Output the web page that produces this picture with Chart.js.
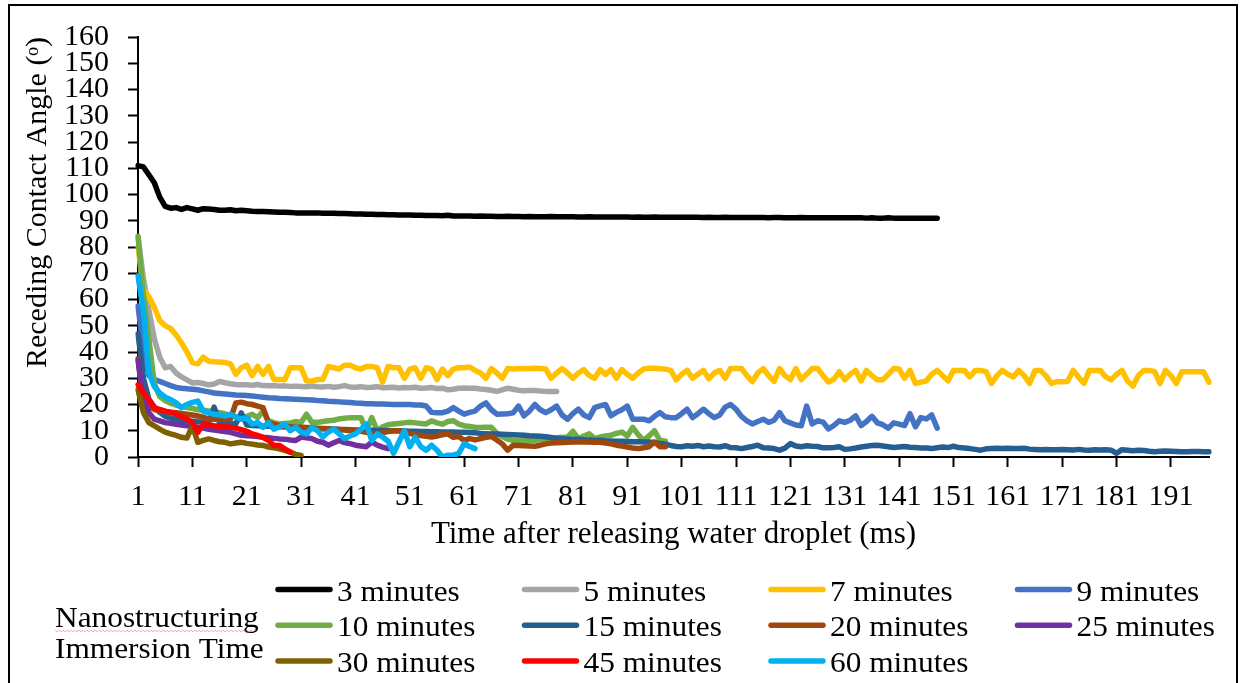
<!DOCTYPE html>
<html>
<head>
<meta charset="utf-8">
<script src="https://cdn.jsdelivr.net/npm/chart.js@4/dist/chart.umd.min.js"></script>
<style>
  html, body { margin: 0; padding: 0; background: #fff; }
  #wrap { width: 1243px; height: 683px; position: relative; }
</style>
</head>
<body>
<div id="wrap"><canvas id="angleChart"></canvas></div>
<script>
// time steps (ms) on the category axis
const timeMs = Array.from({ length: 198 }, (_, i) => i + 1);
const xTickLabels = [1, 11, 21, 31, 41, 51, 61, 71, 81, 91, 101, 111, 121, 131, 141, 151, 161, 171, 181, 191];
const yTicks = [0, 10, 20, 30, 40, 50, 60, 70, 80, 90, 100, 110, 120, 130, 140, 150, 160];

const seriesNames = ["3 minutes", "5 minutes", "7 minutes", "9 minutes", "10 minutes", "15 minutes",
	"20 minutes", "25 minutes", "30 minutes", "45 minutes", "60 minutes"];
const seriesColors = ["#000000", "#A5A5A5", "#FFC000", "#4472C4", "#70AD47", "#255E91",
	"#9E480E", "#7030A0", "#7F6000", "#FF0000", "#00B0F0"];

const min3 = [111, 110.5, 107.5, 104.5, 99, 95.5, 94.8, 95, 94.3, 95,
	94.5, 94, 94.6, 94.5, 94.3, 94, 94, 94.2, 93.8, 94,
	93.8, 93.6, 93.5, 93.5, 93.4, 93.3, 93.2, 93.2, 93.1, 93,
	93, 93, 93, 93, 92.9, 92.9, 92.9, 92.8, 92.8, 92.7,
	92.6, 92.6, 92.5, 92.5, 92.4, 92.4, 92.3, 92.3, 92.2, 92.2,
	92.2, 92.1, 92.1, 92, 92, 92, 91.9, 92.1, 91.8, 91.8,
	91.8, 91.8, 91.7, 91.8, 91.7, 91.7, 91.6, 91.6, 91.7, 91.6,
	91.6, 91.5, 91.6, 91.5, 91.5, 91.5, 91.6, 91.5, 91.5, 91.5,
	91.5, 91.4, 91.4, 91.5, 91.4, 91.4, 91.4, 91.4, 91.4, 91.4,
	91.4, 91.3, 91.4, 91.3, 91.3, 91.4, 91.3, 91.3, 91.3, 91.3,
	91.3, 91.3, 91.3, 91.3, 91.2, 91.3, 91.2, 91.2, 91.3, 91.2,
	91.2, 91.2, 91.2, 91.2, 91.2, 91.2, 91.1, 91.2, 91.2, 91.1,
	91.1, 91.1, 91.2, 91.1, 91.1, 91.1, 91.1, 91.1, 91.1, 91.1,
	91.1, 91.1, 91.1, 91.1, 91, 91.1, 91, 91, 91.1, 91,
	91, 91, 91, 91, 91, 91, 91, 91];

const min5 = [84, 68, 56, 45, 38, 34, 34.5, 32, 30.5, 29.4,
	28.2, 28.4, 28, 27.5, 27.8, 28.8, 28.3, 27.9, 27.6, 27.5,
	27.5, 27.3, 27.6, 27.2, 27.1, 27.2, 27, 27.1, 26.9, 27,
	26.9, 26.8, 27, 26.8, 26.7, 26.9, 26.6, 26.8, 27.2, 26.7,
	26.6, 26.8, 26.5, 26.6, 26.8, 26.4, 26.5, 26.6, 26.3, 26.5,
	26.4, 26.6, 26.2, 26.3, 26.5, 26.1, 26.2, 25.6, 25.8, 26.2,
	26.3, 26.2, 26.2, 25.9, 25.7, 25.4, 25, 25.6, 26.2, 25.8,
	25.4, 25.2, 25.3, 25.3, 25.1, 25, 25, 25];

const min7 = [80, 64, 61, 57, 52, 50, 49, 46.5, 43.5, 40,
	36, 35.5, 38, 36.5, 36.3, 36.2, 36, 35.5, 31.5, 34,
	35, 31, 34.5, 31.5, 34.5, 29.5, 29.5, 29.5, 34, 34,
	34, 29, 29, 29.5, 29.5, 34.5, 34, 33.5, 35, 35,
	34, 33.5, 34.5, 34.5, 34, 28.5, 34.5, 34, 34, 30,
	33.5, 34, 30, 34, 33.5, 29.5, 33.5, 31, 33.5, 34,
	34, 34.3, 33, 32, 30, 33.7, 32, 30, 33.7, 33.5,
	33.6, 33.6, 33.7, 33.8, 33.7, 33.5, 30, 32, 33.7, 32,
	30, 32, 33.3, 31, 30, 33.3, 31.5, 33.3, 30, 33.3,
	31.5, 30, 32, 33.5, 33.8, 33.8, 33.6, 33.5, 33, 29.4,
	31.5, 33, 30, 31.5, 33, 29.8, 32, 33, 30, 33.7,
	33.7, 33.7, 31, 28.7, 32, 33.7, 31, 28.8, 33.7, 31,
	29.5, 33.7, 29.5, 31.5, 33.7, 33.7, 31, 28.6, 29.6, 32.5,
	29.4, 31.5, 33, 29, 33, 31, 29.4, 29.4, 31.5, 33.7,
	33.5, 30, 33, 28, 28.5, 29, 31.5, 33, 31, 29,
	33, 33, 33, 30.5, 33, 33, 32.5, 28, 31, 33,
	31.5, 30.5, 33, 31, 28, 33, 33, 31, 28, 28.7,
	28.7, 28.8, 33, 30.5, 28, 33, 33, 33, 30.5, 29.4,
	31.5, 33, 29, 27, 31, 33, 33, 32.5, 28, 33,
	31, 28, 32.5, 32.5, 32.5, 32.5, 32.5, 28.5];

const min9 = [57.5, 41, 31, 29.5, 28.8, 28, 27.2, 26.5, 26.2, 26,
	25.8, 25.6, 25.2, 24.8, 24.4, 24.2, 24, 23.8, 23.6, 23.5,
	23.4, 23.2, 23, 22.8, 22.6, 22.5, 22.3, 22.2, 22.1, 22,
	21.9, 21.8, 21.7, 21.5, 21.4, 21.2, 21.1, 21, 20.9, 20.8,
	20.6, 20.5, 20.3, 20.3, 20.2, 20.2, 20.1, 20, 20, 20,
	20, 19.8, 19.8, 19.4, 17, 16.9, 16.9, 17.5, 18.8, 17.5,
	16.3, 17, 17.5, 19.4, 20.6, 18, 16.3, 16.4, 16.5, 16.8,
	19.4, 15.7, 17.5, 20, 18, 16.9, 18, 19.4, 16, 14.4,
	16.5, 18.2, 16, 15, 18.8, 19.5, 20, 15.7, 17, 18,
	19.4, 14.4, 14.4, 14.4, 13.8, 15.5, 16.9, 15.3, 15, 15,
	16.5, 18.2, 15, 16.5, 18.2, 16.5, 15, 16, 19, 20,
	18.2, 15.5, 13.8, 12.6, 13.5, 14.4, 13.2, 14, 16.9, 13.8,
	13, 12.2, 11.9, 19.4, 12.6, 13.8, 13.3, 10.7, 12, 13.8,
	13.2, 14, 15.7, 12, 13.5, 15.5, 13, 12.3, 11, 13,
	12.5, 12, 16.5, 11.5, 15, 14.5, 16, 11];

const min10 = [84, 62, 45, 28, 23, 21.5, 20.5, 19.8, 19.2, 18.8,
	18.5, 18, 17.8, 17.5, 17.2, 16.9, 16.5, 15.6, 15.3, 15,
	15.5, 16.3, 15, 17.5, 13.8, 13.1, 12.6, 12.8, 13, 13.5,
	13.2, 16.3, 13.2, 13.2, 13.5, 13.8, 14, 14.5, 14.8, 15,
	15, 15, 10, 15, 10, 11.5, 12.3, 12.6, 12.8, 13,
	13.2, 13, 12.8, 12.6, 13.8, 13, 12.5, 13.5, 13.8, 12.5,
	11.9, 11.6, 11.3, 11.2, 11.3, 11.3, 9, 7.8, 6.8, 6.3,
	6.3, 6.3, 6.3, 6.4, 6.6, 6.9, 7.1, 7.3, 7.5, 7.6,
	9.8, 7, 8, 8.8, 7, 7.6, 8, 8.3, 9, 9.5,
	8, 11.3, 8.5, 6.3, 8, 10, 6.3, 6];

const min15 = [47, 30, 22, 19, 17, 15.5, 14.8, 14.3, 14, 13.8,
	13.6, 13.4, 13.3, 13.2, 19, 13.1, 13, 12.8, 12.7, 16.8,
	12.2, 12, 11.9, 11.8, 11.7, 11.6, 11.5, 11.4, 11.3, 11.2,
	11.1, 11, 10.9, 10.8, 10.8, 10.7, 10.6, 10.5, 10.5, 10.4,
	10.3, 10.3, 10.2, 10.2, 10.1, 10.1, 10, 10, 10, 9.9,
	9.8, 9.8, 9.7, 9.7, 9.6, 9.6, 9.5, 9.5, 9.5, 9.4,
	9.4, 9.3, 9.2, 9, 8.9, 8.8, 8.8, 8.7, 8.6, 8.5,
	8.4, 8.3, 8.1, 8, 7.9, 7.7, 7.4, 7.1, 7, 6.9,
	6.8, 6.8, 6.6, 6.5, 6.4, 6.4, 6.2, 6.1, 6, 6,
	5.9, 5.8, 5.8, 5.7, 5.7, 5.5, 5.2, 4.9, 4.4, 4,
	3.9, 4.3, 4.1, 4.4, 3.9, 4.2, 3.9, 3.8, 4.3, 3.6,
	3.5, 3.2, 3.6, 4, 4.5, 3.5, 3.4, 3.2, 2.6, 3.4,
	5.1, 4.2, 3.9, 4.3, 4.1, 4, 3.5, 3.5, 3.6, 3.9,
	2.9, 3.1, 3.4, 3.8, 4.1, 4.4, 4.5, 4.2, 3.9, 3.6,
	3.8, 4, 3.7, 3.6, 3.4, 3.4, 3.2, 3.5, 3.8, 3.6,
	4.1, 3.6, 3.4, 3.2, 2.9, 2.6, 3.1, 3.2, 3.3, 3.2,
	3.3, 3.2, 3.2, 3.3, 3, 2.9, 2.8, 2.9, 2.8, 2.8,
	2.9, 2.8, 2.7, 2.9, 2.7, 2.6, 2.8, 2.7, 2.8, 2.6,
	1.4, 2.8, 2.6, 2.4, 2.6, 2.5, 2.2, 2, 2.2, 2.3,
	2.2, 2.1, 2, 2, 2.1, 2.1, 2, 2];

const min20 = [37.5, 20.6, 19.5, 18.1, 17.6, 17.3, 17.1, 16.9, 16.6, 16.3,
	16, 15.6, 15.2, 14.4, 14.4, 14.4, 14.4, 14.4, 20.6, 20.9,
	20.3, 20, 19.4, 18.8, 13.1, 12.5, 11.9, 11.7, 11.5, 11.3,
	11.3, 11.2, 11.1, 11, 10.9, 10.8, 10.7, 10.5, 10.3, 10.1,
	10, 9.8, 9.4, 9, 8.8, 9.3, 9.7, 10, 10, 9.6,
	9, 8.5, 8.2, 7.9, 7.6, 8, 8.5, 8.8, 7.5, 7.8,
	6.3, 7, 6.5, 7, 7.5, 7.8, 6.5, 5, 2.6, 4.5,
	4.4, 4.3, 4.2, 4.1, 4.5, 5, 5.3, 5.4, 5.5, 5.6,
	5.7, 5.7, 5.7, 5.7, 5.6, 5.6, 5.3, 5, 4.5, 4.2,
	3.8, 3.4, 3.2, 3.5, 3.9, 5.7, 3.9, 3.9];

const min25 = [36.9, 22, 16.9, 14.4, 13.8, 13.1, 12.8, 12.5, 12.2, 11.9,
	11.7, 11.3, 11, 10.6, 10.3, 10, 9.7, 9.4, 8.8, 8.3,
	8.1, 8, 7.8, 7.5, 7.3, 7.1, 6.9, 6.8, 6.5, 6.3,
	7.6, 7.3, 7, 6, 5.6, 4.5, 5.4, 6.3, 5.5, 5.1,
	4.5, 4.2, 3.9, 5.7, 4.5, 3.8, 3.2];

const min30 = [25.6, 16.9, 13.1, 11.9, 10.6, 9.5, 8.8, 8.2, 7.5, 7.2,
	11.9, 5.6, 6.3, 6.9, 6.3, 5.8, 5.6, 5, 5.3, 5.6,
	5.2, 4.9, 4.6, 4.4, 3.8, 3.5, 3.1, 2.5, 1.9, 1, 0.6];

const min45 = [27.5, 24.4, 21.9, 18.8, 18.1, 17.5, 17, 16.3, 15.4, 14.4,
	13.1, 9.4, 12.5, 12.2, 11.9, 11.7, 11.5, 11.3, 11, 10.4,
	9.8, 8.8, 8.2, 7.5, 6.3, 4.4, 4.4, 3.1, 1.9];

const min60 = [69, 55.6, 32, 26.9, 24.4, 22.8, 21.9, 20.6, 18.8, 20,
	20.8, 21.3, 17.5, 16.8, 16.3, 16, 15.6, 16.3, 15.2, 14.4,
	15, 12.5, 13.1, 11.3, 13.1, 10.6, 11.5, 12.5, 10, 11.3,
	9.4, 8.8, 11.3, 10, 7.6, 9.5, 10.7, 8.8, 7, 8,
	8.8, 10.5, 12.6, 6.3, 8.8, 7.6, 6, 1.4, 5.7, 10,
	3.9, 7.6, 4, 2.6, 4.5, 2.6, 0, 0.7, 0.7, 1.4,
	5.1, 4, 3.2];

const seriesData = [min3, min5, min7, min9, min10, min15, min20, min25, min30, min45, min60];

window.addEventListener("DOMContentLoaded", () => {
	Chart.defaults.font.family = "'Liberation Serif', 'Times New Roman', serif";
	Chart.defaults.color = "#000";

	const ctx = document.getElementById("angleChart").getContext("2d");

	const datasets = seriesNames.map((name, i) => ({
		label: name,
		data: seriesData[i],
		borderColor: seriesColors[i],
		backgroundColor: seriesColors[i],
		borderWidth: 5.5,
		pointRadius: 0,
		tension: 0,
		borderCapStyle: "round",
		borderJoinStyle: "round",
		fill: false,
		// later series sit on top, like the original
		order: seriesNames.length - i,
	}));

	// outer frame + custom 4-column legend
	const frameAndLegend = {
		id: "frameAndLegend",
		afterDraw(chart) {
			const c = chart.ctx;
			c.save();
			c.strokeStyle = "#000";
			c.lineWidth = 2;
			c.strokeRect(9, 5, 1228, 700);

			const font = "28.5px 'Liberation Serif', 'Times New Roman', serif";
			const sx = 1.1;
			c.font = font;
			c.fillStyle = "#000";
			c.textBaseline = "alphabetic";

			// side label
			const sideText = ["Nanostructuring", "Immersion Time"];
			const sideBase = [627, 658];
			sideText.forEach((t, k) => {
				c.save();
				c.translate(55, sideBase[k]);
				c.scale(sx, 1);
				c.fillText(t, 0, 0);
				c.restore();
			});
			// spell-check squiggle under "Nanostructuring"
			const nw = c.measureText(sideText[0]).width * sx;
			c.strokeStyle = "rgba(235,110,110,0.55)";
			c.lineWidth = 1;
			c.beginPath();
			for (let x = 0; x <= nw; x += 2) {
				const yy = 631 + ((x / 2) % 2 ? 0.8 : -0.8);
				if (x === 0) c.moveTo(55 + x, yy); else c.lineTo(55 + x, yy);
			}
			c.stroke();

			chart.data.datasets.forEach((ds, i) => {
				const col = i % 4;
				const row = Math.floor(i / 4);
				const x0 = 278 + col * 246.5;
				const y0 = 589.5 + row * 35.7;
				c.strokeStyle = ds.borderColor;
				c.lineWidth = 5.5;
				c.lineCap = "round";
				c.beginPath();
				c.moveTo(x0, y0);
				c.lineTo(x0 + 52, y0);
				c.stroke();
				c.save();
				c.translate(x0 + 59, y0 + 11.2);
				c.scale(sx, 1);
				c.fillText(ds.label, 0, 0);
				c.restore();
			});
			c.restore();
		},
	};

	const config = {
		type: "line",
		data: { labels: timeMs, datasets: datasets },
		options: {
			responsive: true,
			maintainAspectRatio: false,
			animation: false,
			layout: { padding: { left: 0, top: 28, right: 34, bottom: 126 } },
			scales: {
				x: {
					type: "category",
					offset: false,
					afterFit: (scale) => { scale.height = 100; },
					border: { display: true, color: "#000", width: 2 },
					grid: { display: true, drawOnChartArea: false, drawTicks: true, tickLength: 10, tickColor: "#000", tickWidth: 2 },
					ticks: {
						autoSkip: false,
						maxRotation: 0,
						minRotation: 0,
						padding: 12,
						font: { size: 30 },
						color: "#000",
						callback: function (val, index) {
							const t = timeMs[index];
							return xTickLabels.includes(t) ? String(t) : null;
						},
					},
					title: {
						display: true,
						text: "Time after releasing water droplet (ms)",
						font: { size: 31 },
						color: "#000",
						padding: { top: 0, bottom: 4 },
					},
				},
				y: {
					min: 0,
					max: 160,
					afterFit: (scale) => { scale.width = 138; },
					afterBuildTicks: (scale) => { scale.ticks = yTicks.map((v) => ({ value: v })); },
					border: { display: true, color: "#000", width: 2 },
					grid: { display: true, drawOnChartArea: false, drawTicks: true, tickLength: 10, tickColor: "#000", tickWidth: 2 },
					ticks: { autoSkip: false, padding: 19, font: { size: 30 }, color: "#000" },
					title: {
						display: true,
						text: "Receding Contact Angle (\u1D52)",
						align: "end",
						font: { size: 30 },
						color: "#000",
						padding: { top: 20, bottom: 0 },
					},
				},
			},
			plugins: {
				legend: { display: false },
				tooltip: { enabled: false },
			},
		},
		plugins: [frameAndLegend],
	};

	new Chart(ctx, config);
});
</script>
</body>
</html>
